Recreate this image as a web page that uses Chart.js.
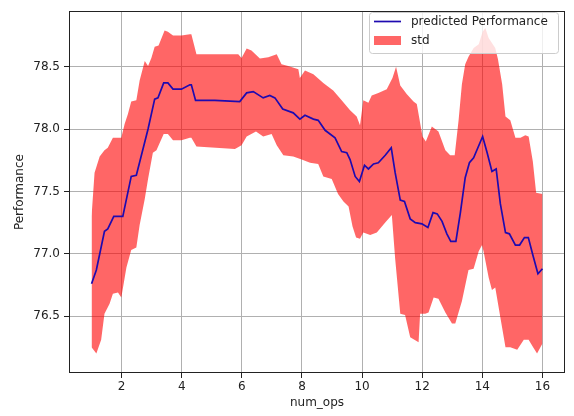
<!DOCTYPE html>
<html>
<head>
<meta charset="utf-8">
<script src="https://cdn.jsdelivr.net/npm/chart.js@4.4.0/dist/chart.umd.min.js"></script>
<style>
  html, body { margin: 0; padding: 0; background: #fff; }
  #wrap { width: 574px; height: 416px; }
</style>
</head>
<body>
<div id="wrap"><canvas id="chart" width="574" height="416"></canvas></div>
<script>
// predicted performance (mean line)
const meanX = [1.0, 1.16, 1.43, 1.54, 1.74, 2.04, 2.32, 2.49, 2.88, 3.1, 3.21, 3.4, 3.54, 3.71, 3.99, 4.27, 4.32, 4.46, 5.1,
  5.93, 6.16, 6.38, 6.71, 6.93, 7.1, 7.36, 7.71, 7.93, 8.1, 8.38, 8.54, 8.77, 9.1, 9.32, 9.49, 9.6, 9.77, 9.91,
  10.08, 10.21, 10.38, 10.54, 10.77, 10.97, 11.1, 11.27, 11.41, 11.6, 11.77, 11.99, 12.19, 12.36, 12.5, 12.66, 12.82,
  12.95, 13.12, 13.27, 13.43, 13.57, 13.71, 14.01, 14.16, 14.32, 14.46, 14.6, 14.77, 14.9, 15.1, 15.24, 15.4, 15.53,
  15.68, 15.85, 16.0];
const meanY = [76.76, 76.87, 77.18, 77.20, 77.30, 77.30, 77.62, 77.63, 78.00, 78.24, 78.25, 78.37, 78.37, 78.32, 78.32, 78.355, 78.355, 78.23, 78.23,
  78.22, 78.29, 78.30, 78.25, 78.27, 78.25, 78.16, 78.13, 78.08, 78.11, 78.08, 78.07, 77.99, 77.93, 77.82, 77.81, 77.755, 77.62, 77.58,
  77.71, 77.68, 77.72, 77.73, 77.79, 77.85, 77.65, 77.43, 77.42, 77.28, 77.25, 77.24, 77.21, 77.33, 77.32, 77.26, 77.16,
  77.10, 77.10, 77.33, 77.61, 77.73, 77.77, 77.94, 77.81, 77.66, 77.68, 77.40, 77.17, 77.16, 77.07, 77.07, 77.13, 77.13,
  76.99, 76.84, 76.88];

// std band, upper edge
const upX = [1.0, 1.1, 1.27, 1.43, 1.54, 1.71, 1.99, 2.1, 2.21, 2.32, 2.49, 2.6, 2.77, 2.88, 2.99, 3.1, 3.23, 3.43, 3.54, 3.71, 3.99,
  4.27, 4.32, 4.49, 5.88, 5.99, 6.16, 6.32, 6.6, 6.88, 7.16, 7.32, 7.54, 7.88, 7.93, 8.1, 8.38, 8.71, 9.04, 9.32, 9.6, 9.82,
  9.93, 10.04, 10.21, 10.32, 10.54, 10.82, 11.01, 11.13, 11.27, 11.49, 11.71, 11.82, 12.01, 12.12, 12.32, 12.54, 12.77, 12.93,
  13.08, 13.21, 13.32, 13.43, 13.54, 13.71, 13.88, 14.01, 14.1, 14.21, 14.43, 14.52, 14.66, 14.77, 14.93, 15.1, 15.27, 15.43,
  15.54, 15.68, 15.79, 16.0];
const upY = [77.30, 77.65, 77.78, 77.83, 77.85, 77.93, 77.93, 78.04, 78.12, 78.22, 78.23, 78.39, 78.545, 78.505, 78.57, 78.66, 78.67, 78.79, 78.78, 78.75, 78.75,
  78.76, 78.76, 78.60, 78.60, 78.57, 78.645, 78.63, 78.565, 78.575, 78.60, 78.52, 78.505, 78.48, 78.41, 78.47, 78.44, 78.37, 78.31, 78.23, 78.15, 78.10,
  78.03, 78.23, 78.21, 78.27, 78.29, 78.32, 78.41, 78.50, 78.35, 78.28, 78.22, 78.20, 77.94, 77.90, 78.02, 77.98, 77.83, 77.79,
  77.79, 78.07, 78.36, 78.52, 78.58, 78.65, 78.68, 78.78, 78.81, 78.73, 78.65, 78.56, 78.36, 78.10, 78.07, 77.93, 77.93, 77.95,
  77.94, 77.74, 77.49, 77.48];

// std band, lower edge
const loX = [1.0, 1.16, 1.32, 1.43, 1.6, 1.71, 1.88, 1.99, 2.16, 2.32, 2.49, 2.6, 2.77, 2.88, 3.04, 3.16, 3.27, 3.4, 3.54, 3.71, 3.99,
  4.27, 4.32, 4.49, 5.77, 5.99, 6.16, 6.47, 6.71, 6.99, 7.16, 7.38, 7.71, 7.99, 8.27, 8.54, 8.71, 8.99, 9.2, 9.38, 9.55, 9.68,
  9.8, 9.93, 10.04, 10.27, 10.49, 10.77, 10.99, 11.1, 11.27, 11.43, 11.6, 11.88, 11.93, 12.1, 12.21, 12.38, 12.54, 12.77, 12.99,
  13.1, 13.32, 13.54, 13.71, 13.88, 13.99, 14.04, 14.21, 14.32, 14.43, 14.6, 14.77, 14.93, 15.16, 15.38, 15.54, 15.69, 15.82, 16.0];
const loY = [76.25, 76.20, 76.31, 76.52, 76.60, 76.68, 76.69, 76.65, 76.89, 77.03, 77.05, 77.23, 77.44, 77.60, 77.81, 77.83, 77.89, 77.96, 77.96, 77.91, 77.91,
  77.93, 77.93, 77.86, 77.84, 77.87, 77.94, 77.98, 77.94, 77.96, 77.87, 77.79, 77.78, 77.755, 77.73, 77.72, 77.62, 77.60, 77.48, 77.42, 77.38, 77.22,
  77.13, 77.12, 77.17, 77.15, 77.17, 77.25, 77.31, 76.96, 76.52, 76.51, 76.33, 76.29, 76.52, 76.52, 76.53, 76.65, 76.64, 76.53, 76.44,
  76.44, 76.62, 76.87, 76.88, 77.02, 77.07, 77.02, 76.81, 76.71, 76.73, 76.49, 76.25, 76.25, 76.23, 76.31, 76.31, 76.25, 76.20, 76.28];

const xTicks = [2, 4, 6, 8, 10, 12, 14, 16];
const yTicks = [76.5, 77.0, 77.5, 78.0, 78.5];

const lineColor = '#1e0ab0';
const bandColor = 'rgba(255, 0, 0, 0.6)';
const textColor = '#222';

Chart.defaults.font.family = "'DejaVu Sans', sans-serif";
Chart.defaults.font.size = 12;
Chart.defaults.color = textColor;

const toPoints = (xs, ys) => xs.map((x, i) => ({ x: x, y: ys[i] }));

// box round the plot, like the matplotlib spines
const frame = {
  id: 'frame',
  afterDraw(chart) {
    const a = chart.chartArea;
    const ctx = chart.ctx;
    ctx.save();
    ctx.strokeStyle = '#222';
    ctx.lineWidth = 1;
    ctx.strokeRect(Math.round(a.left) + 0.5, Math.round(a.top) + 0.5,
      Math.round(a.right - a.left) - 1, Math.round(a.bottom - a.top) - 1);
    ctx.restore();
  }
};

// matplotlib style legend box in the upper right
const boxLegend = {
  id: 'boxLegend',
  afterDraw(chart) {
    const ctx = chart.ctx;
    const ds = chart.data.datasets;
    const x0 = 369, y0 = 12, w = 189, h = 41, r = 3;
    ctx.save();
    ctx.beginPath();
    ctx.roundRect(x0 + 0.5, y0 + 0.5, w, h, r);
    ctx.fillStyle = 'rgba(255, 255, 255, 0.8)';
    ctx.fill();
    ctx.strokeStyle = '#cccccc';
    ctx.lineWidth = 1;
    ctx.stroke();

    ctx.strokeStyle = ds[0].borderColor;
    ctx.lineWidth = ds[0].borderWidth;
    ctx.beginPath();
    ctx.moveTo(374, 21.5);
    ctx.lineTo(401, 21.5);
    ctx.stroke();
    ctx.fillStyle = ds[1].backgroundColor;
    ctx.fillRect(374, 36, 27, 9);

    ctx.fillStyle = textColor;
    ctx.font = "12px 'DejaVu Sans'";
    ctx.textBaseline = 'middle';
    ctx.fillText(ds[0].label, 411, 22);
    ctx.fillText(ds[1].label, 411, 40.5);
    ctx.restore();
  }
};

new Chart(document.getElementById('chart'), {
  type: 'line',
  data: {
    datasets: [
      {
        label: 'predicted Performance',
        data: toPoints(meanX, meanY),
        borderColor: lineColor,
        borderWidth: 1.7,
        pointRadius: 0,
        fill: false,
        tension: 0
      },
      {
        label: 'std',
        data: toPoints(upX, upY),
        borderColor: 'transparent',
        backgroundColor: bandColor,
        borderWidth: 0,
        pointRadius: 0,
        fill: '+1',
        tension: 0
      },
      {
        label: 'std lower',
        data: toPoints(loX, loY),
        borderColor: 'transparent',
        borderWidth: 0,
        pointRadius: 0,
        fill: false,
        tension: 0
      }
    ]
  },
  options: {
    responsive: false,
    animation: false,
    devicePixelRatio: 1,
    layout: { padding: { left: 0, right: 9, top: 6, bottom: 0 } },
    plugins: {
      legend: { display: false },
      tooltip: { enabled: false }
    },
    scales: {
      x: {
        type: 'linear',
        min: 0.25,
        max: 16.75,
        afterBuildTicks: s => { s.ticks = xTicks.map(v => ({ value: v })); },
        afterFit: s => { s.height = 43; },
        grid: { color: '#b0b0b0', lineWidth: 1, tickLength: 5, tickColor: '#222' },
        border: { display: false },
        ticks: { padding: 2, maxRotation: 0, autoSkip: false, color: textColor },
        title: { display: true, text: 'num_ops', color: textColor, padding: { top: 0, bottom: 6 } }
      },
      y: {
        type: 'linear',
        min: 76.044,
        max: 78.945,
        afterBuildTicks: s => { s.ticks = yTicks.map(v => ({ value: v })); },
        afterFit: s => { s.width = 69; },
        grid: { color: '#b0b0b0', lineWidth: 1, tickLength: 5, tickColor: '#222' },
        border: { display: false },
        ticks: { padding: 4, color: textColor, callback: v => v.toFixed(1) },
        title: { display: true, text: 'Performance', color: textColor, padding: { top: 13, bottom: 0 } }
      }
    }
  },
  plugins: [frame, boxLegend]
});
</script>
</body>
</html>
